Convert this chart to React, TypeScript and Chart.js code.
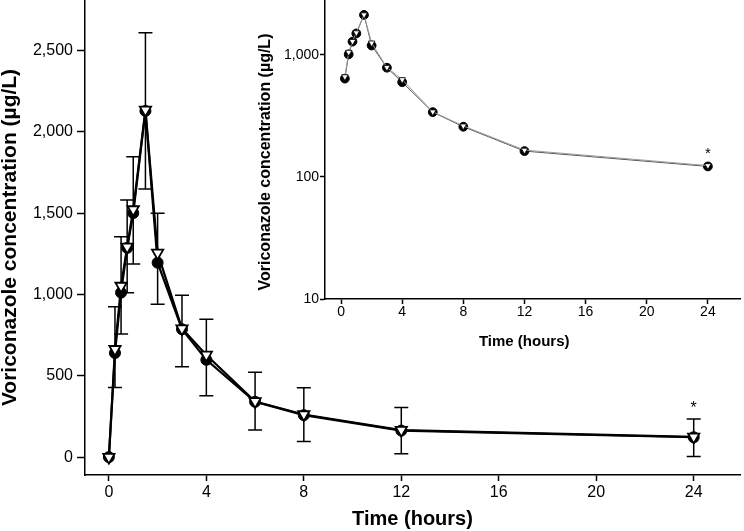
import React, { useEffect, useRef } from "react";
import { Chart, registerables } from "chart.js";

Chart.register(...registerables);

const FONT = "'Liberation Sans', Arial, sans-serif";

// Sampling times (hours)
const timeHours = [0, 0.25, 0.5, 0.75, 1, 1.5, 2, 3, 4, 6, 8, 12, 24];
// Mean concentrations (µg/L)
const circleMean = [0, 640, 1011, 1286, 1500, 2128, 1195, 786, 598, 340, 258, 163, 122];
const triangleMean = [0, 663, 1052, 1292, 1522, 2134, 1255, 790, 628, 342, 262, 166, 124];
// Error bar limits (µg/L)
const errUpper = [null, 925, 1355, 1580, 1847, 2608, 1499, 995, 848, 522, 426, 305, 235];
const errLower = [null, 428, 757, 1011, 1187, 1648, 940, 555, 377, 166, 96, 20, 4];
// Tick values
const xTicks = [0, 4, 8, 12, 16, 20, 24];
const mainYTicks = [0, 500, 1000, 1500, 2000, 2500];
const insetYTicks = [10, 100, 1000];
// Significance marker
const starIndex = 12;

const yTitle = "Voriconazole concentration (µg/L)";
const xTitle = "Time (hours)";

const fmt = (v: number) => Number(v).toLocaleString("en-US");

const toXY = (ys: number[]) => timeHours.map((t, i) => ({ x: t, y: ys[i] }));

const errorBarPlugin = {
  id: "errorBars",
  beforeDatasetsDraw(chart: any) {
    const { ctx } = chart;
    const xs = chart.scales.x;
    const ys = chart.scales.y;
    ctx.save();
    ctx.strokeStyle = "#000";
    ctx.lineWidth = 1.5;
    timeHours.forEach((t, i) => {
      const hi = errUpper[i];
      const lo = errLower[i];
      if (hi == null || lo == null) return;
      const x = xs.getPixelForValue(t);
      const yt = ys.getPixelForValue(hi);
      const yb = ys.getPixelForValue(lo);
      const cap = 7;
      ctx.beginPath();
      ctx.moveTo(x, yt);
      ctx.lineTo(x, yb);
      ctx.moveTo(x - cap, yt);
      ctx.lineTo(x + cap, yt);
      ctx.moveTo(x - cap, yb);
      ctx.lineTo(x + cap, yb);
      ctx.stroke();
    });
    ctx.restore();
  },
  afterDatasetsDraw(chart: any) {
    const { ctx } = chart;
    const xs = chart.scales.x;
    const ys = chart.scales.y;
    ctx.save();
    ctx.fillStyle = "#000";
    ctx.font = `16px ${FONT}`;
    ctx.textAlign = "center";
    ctx.textBaseline = "middle";
    const hi = errUpper[starIndex] as number;
    ctx.fillText("*", xs.getPixelForValue(timeHours[starIndex]), ys.getPixelForValue(hi) - 10);
    ctx.restore();
  },
};

const insetDecorPlugin = {
  id: "insetDecor",
  afterDatasetsDraw(chart: any) {
    const { ctx } = chart;
    const xs = chart.scales.x;
    const ys = chart.scales.y;
    ctx.save();
    ctx.fillStyle = "#000";
    ctx.font = `15px ${FONT}`;
    ctx.textAlign = "center";
    ctx.textBaseline = "middle";
    ctx.fillText("*", xs.getPixelForValue(timeHours[starIndex]), ys.getPixelForValue(circleMean[starIndex]) - 13);
    ctx.restore();
  },
  afterDraw(chart: any) {
    const { ctx, chartArea } = chart;
    ctx.save();
    ctx.fillStyle = "#000";
    ctx.textAlign = "center";
    ctx.textBaseline = "middle";
    ctx.font = `bold 15px ${FONT}`;
    ctx.fillText(xTitle, chartArea.left + (chartArea.right - chartArea.left) * 0.48, chartArea.bottom + 43);
    ctx.translate(chartArea.left - 59, chartArea.top + 162);
    ctx.rotate(-Math.PI / 2);
    ctx.font = `bold 16px ${FONT}`;
    ctx.fillText(yTitle, 0, 0);
    ctx.restore();
  },
};

const zeroPad = (s: any) => {
  s.paddingTop = 0;
  s.paddingBottom = 0;
  s.paddingLeft = 0;
  s.paddingRight = 0;
};

export default function App() {
  const mainRef = useRef<HTMLCanvasElement>(null);
  const insetRef = useRef<HTMLCanvasElement>(null);

  useEffect(() => {
    Chart.defaults.font.family = FONT;
    Chart.defaults.color = "#000";

    const axisCommon = (tickLen: number) => ({
      grid: {
        display: true,
        drawOnChartArea: false,
        drawTicks: true,
        tickLength: tickLen,
        tickWidth: 1.5,
        tickColor: "#000",
      },
      border: { display: true, color: "#000", width: 1.5 },
    });

    const main = new Chart(mainRef.current as HTMLCanvasElement, {
      type: "line",
      data: {
        datasets: [
          {
            data: toXY(triangleMean),
            borderColor: "#000",
            borderWidth: 2.2,
            pointStyle: "triangle",
            rotation: 180,
            pointRadius: 6.5,
            pointBackgroundColor: "#fff",
            pointBorderColor: "#000",
            pointBorderWidth: 1.8,
            tension: 0,
          },
          {
            data: toXY(circleMean),
            borderColor: "#000",
            borderWidth: 2.2,
            pointStyle: "circle",
            pointRadius: 5.5,
            pointBackgroundColor: "#000",
            pointBorderColor: "#000",
            pointBorderWidth: 1,
            tension: 0,
          },
        ],
      },
      options: {
        animation: false,
        responsive: false,
        events: [],
        layout: { autoPadding: false, padding: { top: 0, right: 4, left: 0, bottom: 0 } },
        plugins: { legend: { display: false }, tooltip: { enabled: false } },
        scales: {
          x: {
            type: "linear",
            min: -0.98,
            max: 25.9,
            afterBuildTicks: (s: any) => {
              s.ticks = xTicks.map((v) => ({ value: v }));
            },
            afterFit: (s: any) => {
              s.height = 56;
              zeroPad(s);
            },
            ticks: { font: { size: 16 }, padding: 2, color: "#000", maxRotation: 0 },
            title: { display: true, text: xTitle, font: { size: 20, weight: "bold", lineHeight: 1.2 }, padding: 0, color: "#000" },
            ...axisCommon(6),
          },
          y: {
            type: "linear",
            min: -110,
            max: 2810,
            afterBuildTicks: (s: any) => {
              s.ticks = mainYTicks.map((v) => ({ value: v }));
            },
            afterFit: (s: any) => {
              s.width = 85;
              zeroPad(s);
            },
            ticks: { font: { size: 16 }, padding: 4, color: "#000", callback: (v: any) => fmt(v) },
            title: { display: true, text: yTitle, font: { size: 21, weight: "bold", lineHeight: 1.0 }, padding: 0, color: "#000" },
            ...axisCommon(8),
          },
        },
      },
      plugins: [errorBarPlugin],
    } as any);

    const inset = new Chart(insetRef.current as HTMLCanvasElement, {
      type: "line",
      data: {
        datasets: [
          {
            data: toXY(triangleMean),
            borderColor: "#9a9a9a",
            borderWidth: 1,
            pointStyle: "triangle",
            rotation: 180,
            pointRadius: timeHours.map((t) => (t === 0 ? 0 : 3.8)),
            pointBackgroundColor: "#fff",
            pointBorderColor: "#000",
            pointBorderWidth: 0.8,
            tension: 0,
          },
          {
            data: toXY(circleMean),
            borderColor: "#555",
            borderWidth: 1,
            pointStyle: "circle",
            pointRadius: timeHours.map((t) => (t === 0 ? 0 : 4.4)),
            pointBackgroundColor: "#000",
            pointBorderColor: "#000",
            pointBorderWidth: 1,
            tension: 0,
          },
        ],
      },
      options: {
        animation: false,
        responsive: false,
        events: [],
        layout: { autoPadding: false, padding: { top: 0, right: 4, left: 0, bottom: 0 } },
        plugins: { legend: { display: false }, tooltip: { enabled: false } },
        scales: {
          x: {
            type: "linear",
            min: -1.05,
            max: 26.1,
            afterBuildTicks: (s: any) => {
              s.ticks = xTicks.map((v) => ({ value: v }));
            },
            afterFit: (s: any) => {
              s.height = 61;
              zeroPad(s);
            },
            ticks: { font: { size: 14 }, padding: 0, color: "#000", maxRotation: 0 },
            ...axisCommon(5),
          },
          y: {
            type: "logarithmic",
            min: 10,
            max: 2820,
            afterBuildTicks: (s: any) => {
              s.ticks = insetYTicks.map((v) => ({ value: v }));
            },
            afterFit: (s: any) => {
              s.width = 95;
              zeroPad(s);
            },
            ticks: { font: { size: 14 }, padding: 1, color: "#000", callback: (v: any) => fmt(v) },
            ...axisCommon(5),
          },
        },
      },
      plugins: [insetDecorPlugin],
    } as any);

    return () => {
      main.destroy();
      inset.destroy();
    };
  }, []);

  return (
    <div style={{ position: "fixed", left: 0, top: 0, width: 744, height: 531, background: "#fff" }}>
      <canvas ref={mainRef} width={744} height={531} style={{ position: "absolute", left: 0, top: 0, width: 744, height: 531 }} />
      <canvas ref={insetRef} width={514} height={360} style={{ position: "absolute", left: 230, top: 0, width: 514, height: 360 }} />
    </div>
  );
}
